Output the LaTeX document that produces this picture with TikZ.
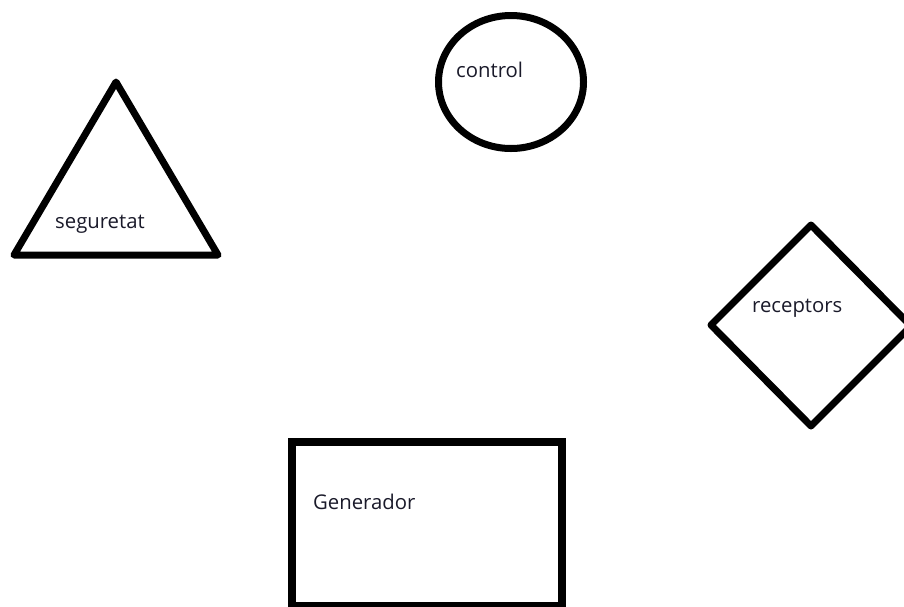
\documentclass[tikz,border=0pt]{standalone}
\usepackage{fontspec}
\setmainfont{Open Sans}
\definecolor{ink}{HTML}{1A1A2A}
\begin{document}
\begin{tikzpicture}[x=1pt,y=-1pt,
  shapeline/.style={draw=black,line width=7pt,line join=round},
  label/.style={anchor=base west,inner sep=0pt,text=ink,font=\fontsize{20.3}{23}\selectfont}]
\useasboundingbox[fill=white] (0,0) rectangle (904,606);
% triangle
\draw[shapeline] (116,82) -- (14,255) -- (218,255) -- cycle;
% circle
\draw[shapeline] (511,82) ellipse [x radius=72.5, y radius=66.5];
% diamond
\draw[shapeline] (811,225) -- (911,326) -- (811,426) -- (711,325) -- cycle;
% rectangle
\draw[shapeline,line join=miter,line width=8pt] (292,610) -- (292,442) -- (562,442) -- (562,610);
\draw[shapeline,line width=8pt] (288,606) -- (566,606);
% labels
\node[label] (seg) at (55,228) {seguretat};
\node[label] (ctl) at (456,77) {control};
\node[label] (rec) at (752,312) {receptors};
\node[label] (gen) at (313,509) {Generador};
\end{tikzpicture}
\end{document}
